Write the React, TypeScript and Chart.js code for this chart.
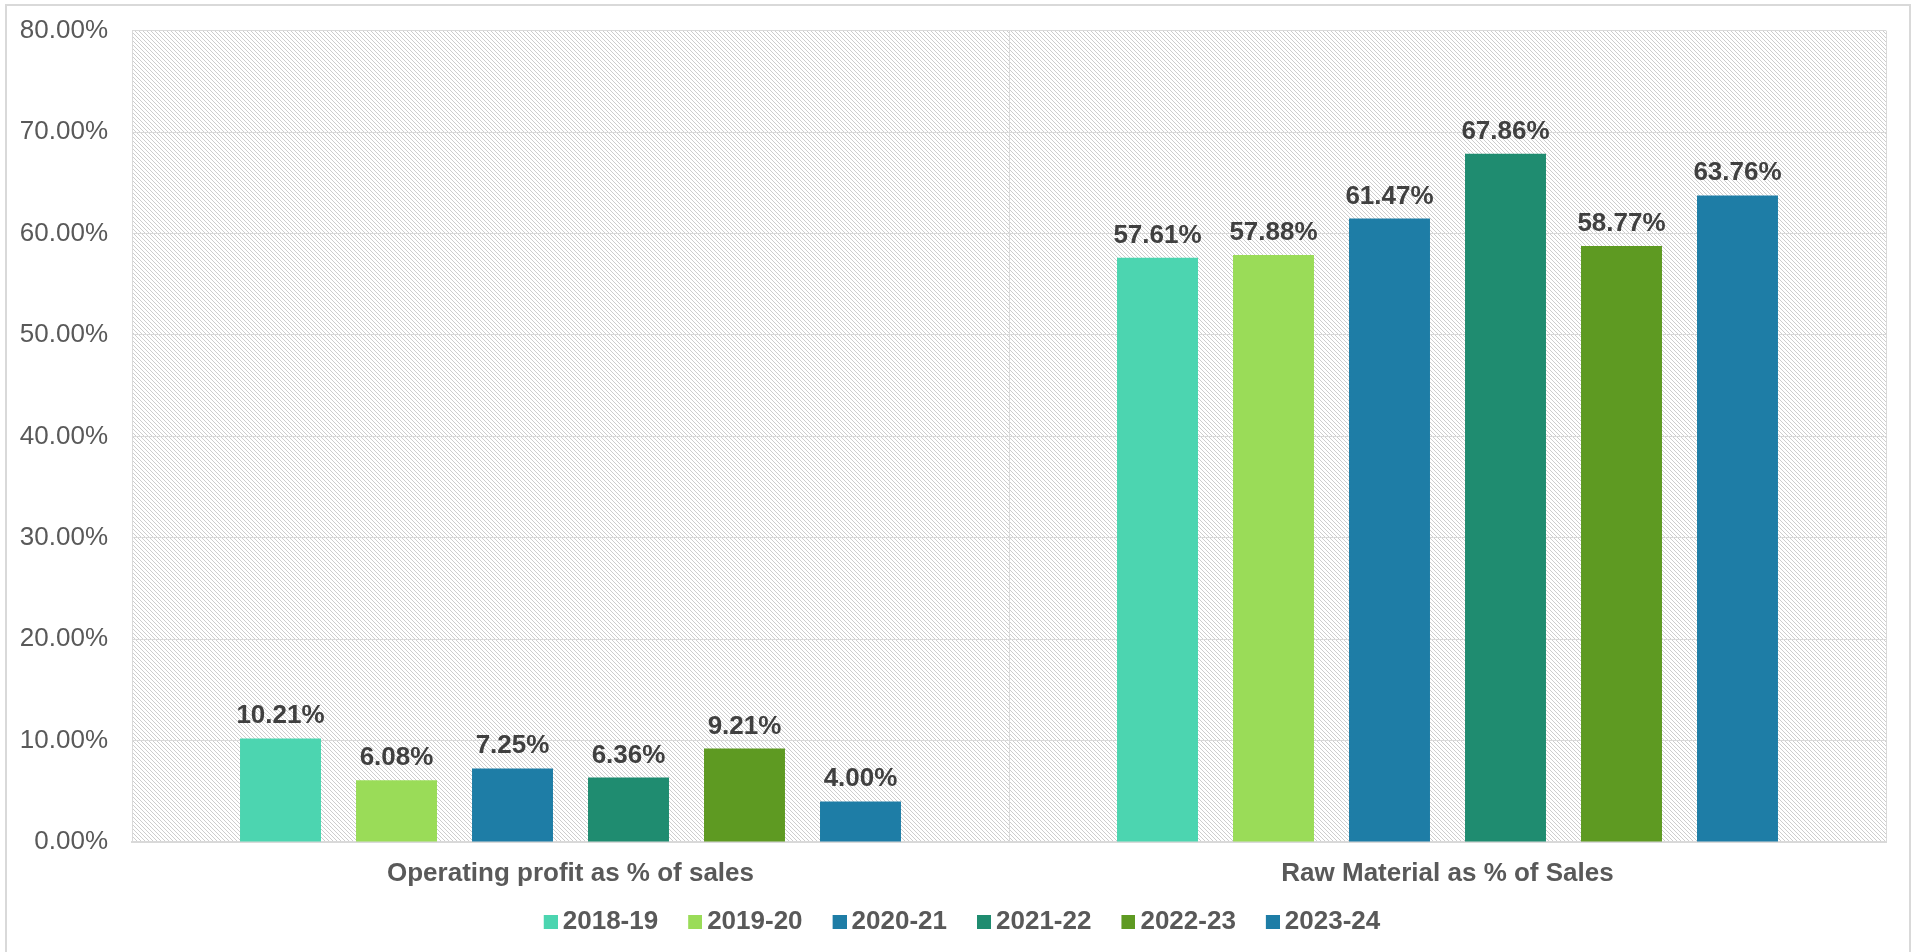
import React, { useEffect, useRef } from "react";
import { Chart, registerables } from "chart.js";

Chart.register(...registerables);

// ---- data ----
const categories = ["Operating profit as % of sales", "Raw Material as % of Sales"];
const seriesLabels = ["2018-19", "2019-20", "2020-21", "2021-22", "2022-23", "2023-24"];
const values201819 = [10.21, 57.61];
const values201920 = [6.08, 57.88];
const values202021 = [7.25, 61.47];
const values202122 = [6.36, 67.86];
const values202223 = [9.21, 58.77];
const values202324 = [4.0, 63.76];
const seriesValues = [values201819, values201920, values202021, values202122, values202223, values202324];
const seriesColors = ["#4CD5B0", "#9ADC58", "#1E7DA6", "#1F8C70", "#5E9A22", "#1E7DA6"];
const yMin = 0;
const yMax = 80;
const yStep = 10;

const FONT = "'Liberation Sans', Arial, sans-serif";
const GRID = "#d9d9d9";
const TEXT = "#595959";

function makeHatch(): CanvasPattern | string {
  const c = document.createElement("canvas");
  c.width = 8;
  c.height = 8;
  const g = c.getContext("2d");
  if (!g) return "#f2f2f2";
  g.fillStyle = "#ffffff";
  g.fillRect(0, 0, 8, 8);
  g.fillStyle = "#cdcdcd";
  for (let y = 0; y < 8; y++) {
    for (let x = 0; x < 8; x++) {
      if (((x - y) & 3) === 0) g.fillRect(x, y, 1, 1);
    }
  }
  const p = g.createPattern(c, "repeat");
  return p || "#f2f2f2";
}

// legend swatch: 14x14 square placed at the right of a 40px wide image
function makeSwatch(color: string): HTMLCanvasElement {
  const c = document.createElement("canvas");
  c.width = 40;
  c.height = 14;
  const g = c.getContext("2d");
  if (g) {
    g.fillStyle = color;
    g.fillRect(26, 0, 14, 14);
  }
  return c;
}

const hatchPlugin = {
  id: "hatchBg",
  beforeDraw(chart: any) {
    const { ctx, chartArea } = chart;
    if (!chartArea) return;
    ctx.save();
    ctx.fillStyle = makeHatch();
    ctx.fillRect(chartArea.left, chartArea.top, chartArea.right - chartArea.left, chartArea.bottom - chartArea.top);
    ctx.restore();
  },
};

const valueLabelPlugin = {
  id: "valueLabels",
  afterDatasetsDraw(chart: any) {
    const { ctx } = chart;
    ctx.save();
    ctx.font = `bold 26px ${FONT}`;
    ctx.fillStyle = "#404040";
    ctx.textAlign = "center";
    ctx.textBaseline = "alphabetic";
    chart.data.datasets.forEach((ds: any, i: number) => {
      const meta = chart.getDatasetMeta(i);
      meta.data.forEach((el: any, j: number) => {
        const v = ds.data[j];
        ctx.fillText(`${Number(v).toFixed(2)}%`, el.x, el.y - 15);
      });
    });
    ctx.restore();
  },
};

export default function App() {
  const ref = useRef<HTMLCanvasElement | null>(null);

  useEffect(() => {
    if (!ref.current) return;
    const chart = new Chart(ref.current, {
      type: "bar",
      data: {
        labels: categories,
        datasets: seriesLabels.map((label, i) => ({
          label,
          data: seriesValues[i],
          backgroundColor: seriesColors[i],
          borderWidth: 0,
          categoryPercentage: 0.7936,
          barPercentage: 0.698,
        })),
      },
      options: {
        responsive: false,
        animation: false,
        layout: { padding: { left: 20, top: 30.7, right: 33, bottom: 7 } },
        plugins: {
          tooltip: { enabled: false },
          legend: {
            position: "bottom",
            labels: {
              usePointStyle: true,
              pointStyleWidth: 24,
              boxWidth: 24,
              boxHeight: 14,
              padding: 12,
              color: TEXT,
              font: { family: FONT, size: 26, weight: "bold" },
              generateLabels: (ch: any) =>
                ch.data.datasets.map((ds: any, i: number) => ({
                  text: ds.label,
                  fillStyle: ds.backgroundColor,
                  strokeStyle: ds.backgroundColor,
                  lineWidth: 0,
                  hidden: !ch.isDatasetVisible(i),
                  datasetIndex: i,
                  pointStyle: makeSwatch(ds.backgroundColor),
                  fontColor: TEXT,
                })),
            },
          },
        },
        scales: {
          x: {
            type: "category",
            offset: true,
            grid: { offset: true, color: GRID, lineWidth: 1, drawTicks: false },
            border: { color: GRID, width: 2 },
            ticks: {
              color: TEXT,
              font: { family: FONT, size: 26, weight: "bold" },
              padding: 16,
              maxRotation: 0,
              autoSkip: false,
            },
            afterFit: (scale: any) => {
              scale.height = 55;
              scale.paddingLeft = 0;
              scale.paddingRight = 0;
            },
          },
          y: {
            min: yMin,
            max: yMax,
            grid: { color: GRID, lineWidth: 1, drawTicks: false },
            border: { color: GRID, width: 1 },
            ticks: {
              stepSize: yStep,
              color: TEXT,
              font: { family: FONT, size: 26 },
              padding: 24,
              callback: (v: any) => `${Number(v).toFixed(2)}%`,
            },
            afterFit: (scale: any) => {
              scale.width = 112;
              scale.paddingTop = 0;
              scale.paddingBottom = 0;
            },
          },
        },
      },
      plugins: [hatchPlugin, valueLabelPlugin],
    } as any);
    return () => chart.destroy();
  }, []);

  return (
    <div style={{ position: "fixed", left: 0, top: 0, width: 1919, height: 952, overflow: "hidden", background: "#fff" }}>
      <div
        style={{
          position: "absolute",
          left: 5,
          top: 4,
          width: 1906,
          height: 960,
          boxSizing: "border-box",
          border: "2px solid #d9d9d9",
        }}
      />
      <canvas ref={ref} width={1919} height={952} style={{ position: "absolute", left: 0, top: 0, width: 1919, height: 952 }} />
    </div>
  );
}
